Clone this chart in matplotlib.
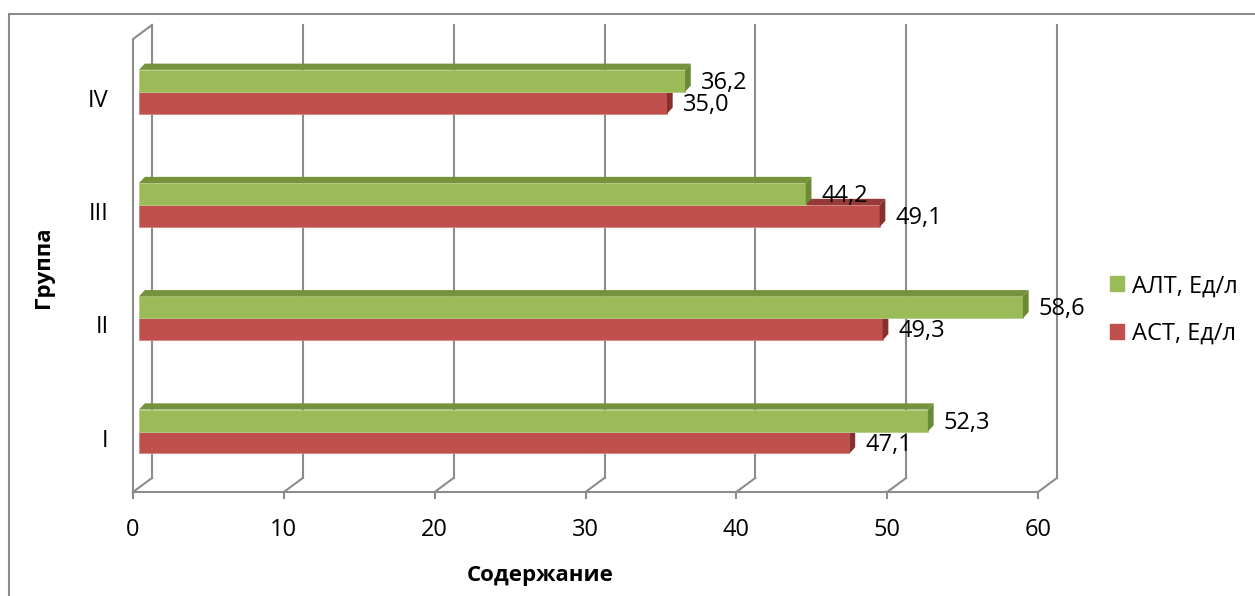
import matplotlib
matplotlib.use('Agg')
import matplotlib.pyplot as plt
from matplotlib.patches import Polygon, Rectangle, Patch
from matplotlib import transforms
import numpy as np

plt.rcParams['font.family'] = ['Open Sans', 'DejaVu Sans']

# data
groups = ['I', 'II', 'III', 'IV']
alt = [52.3, 58.6, 44.2, 36.2]
ast = [47.1, 49.3, 49.1, 35.0]
series_names = ['АЛТ, Ед/л', 'АСТ, Ед/л']
xticks = [0, 10, 20, 30, 40, 50, 60]

# colours: front face, top face, side face, front edge
green = ('#9BBB59', '#76923C', '#6B8A36', '#B4CD86')
red = ('#C0504D', '#963A38', '#88302E', '#D58280')
grid_col = '#8C8C8C'

fig = plt.figure(figsize=(12.55, 5.96), dpi=100)
ax = fig.add_axes([133 / 1255, 104 / 596, 905 / 1255, 467 / 596])

ylo, yhi = -0.534, 3.59
ax.set_xlim(0, 60)
ax.set_ylim(ylo, yhi)
for s in ax.spines.values():
    s.set_visible(False)

# pseudo 3d walls: depth offsets in data units
wdx, wdy = 1.26, 0.124
lw = 1.5
for x in xticks:
    ax.plot([x, x + wdx], [ylo, ylo + wdy], color=grid_col, lw=lw, clip_on=False, zorder=1)
    ax.plot([x + wdx, x + wdx], [ylo + wdy, yhi], color=grid_col, lw=lw, clip_on=False, zorder=1)
ax.plot([0, 60], [ylo, ylo], color=grid_col, lw=lw, clip_on=False, zorder=1)
ax.plot([0, 0, wdx], [ylo, yhi - wdy, yhi], color=grid_col, lw=lw, clip_on=False, zorder=1)

# bars
bar_off = 0.4
bh = 0.194
ddx, ddy = 0.38, 0.055
y = np.arange(len(groups))


def bar3d(yc, vals, cols, z):
    ax.barh(yc, vals, left=bar_off, height=bh, color=cols[0],
            edgecolor=cols[3], linewidth=0.6, zorder=z)
    for yy, v in zip(yc, vals):
        yt, yb = yy + bh / 2, yy - bh / 2
        x0, x1 = bar_off, bar_off + v
        ax.add_patch(Polygon([(x0, yt), (x1, yt), (x1 + ddx, yt + ddy), (x0 + ddx, yt + ddy)],
                             closed=True, facecolor=cols[1], edgecolor='none', zorder=z))
        ax.add_patch(Polygon([(x1, yb), (x1 + ddx, yb + ddy), (x1 + ddx, yt + ddy), (x1, yt)],
                             closed=True, facecolor=cols[2], edgecolor='none', zorder=z))
        ax.annotate(f'{v:.1f}'.replace('.', ','), (x1, yy), xytext=(16, -2),
                    textcoords='offset pixels', ha='left', va='center',
                    fontsize=17, zorder=z + 1)


bar3d(y - bh / 2, ast, red, 3)
bar3d(y + bh / 2, alt, green, 4)

# axis ticks
ax.set_xticks(xticks)
ax.set_xticklabels([str(t) for t in xticks], fontsize=17)
ax.tick_params(axis='x', length=5, width=lw, color=grid_col, pad=13.5)
ax.set_yticks(y)
ax.set_yticklabels(groups, fontsize=17)
ax.tick_params(axis='y', length=0, pad=17.5)
shift = transforms.ScaledTranslation(0, -0.06, fig.dpi_scale_trans)
for lab in ax.get_yticklabels():
    lab.set_transform(lab.get_transform() + shift)

fig.text(44 / 1255, 1 - 267 / 596, 'Группа', rotation=90, ha='center', va='center',
         fontsize=16, fontweight='bold')
fig.text(540 / 1255, 1 - 576 / 596, 'Содержание', ha='center', va='center',
         fontsize=16, fontweight='bold')

handles = [Patch(color=green[0]), Patch(color=red[0])]
fig.legend(handles, series_names, loc='center left',
           bbox_to_anchor=(1089 / 1255, 1 - 310 / 596), frameon=False,
           fontsize=17, handlelength=0.6, handleheight=0.6, handletextpad=0.3,
           labelspacing=1.0)

# outer chart frame
fig.add_artist(Rectangle((9 / 1255, -0.2), 2, 1.2 - 14 / 596, transform=fig.transFigure,
                         fill=False, edgecolor='#8C8C8C', lw=1.5))

fig.savefig('out.png', dpi=100)
